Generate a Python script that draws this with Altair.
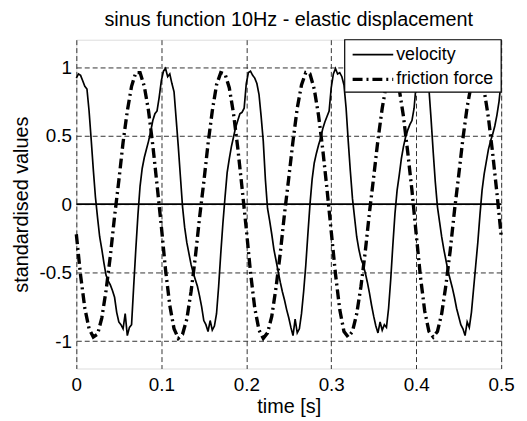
import altair as alt
import numpy as np
import pandas as pd

# ---------------- data ----------------
series_names = ["velocity", "friction force"]

# velocity sampled every 0.0025 s (201 values, 0 .. 0.5 s)
velocity = [
    # 0.000 - 0.0975
    0.92, 0.95, 0.94, 0.90, 0.86, 0.84, 0.68, 0.47, 0.25, 0.05,
    -0.10, -0.24, -0.33, -0.43, -0.52, -0.56, -0.59, -0.63, -0.68, -0.79,
    -0.86, -0.88, -0.91, -0.80, -0.96, -0.90, -0.88, -0.60, -0.33, -0.08,
    0.13, 0.26, 0.34, 0.40, 0.46, 0.53, 0.61, 0.66, 0.68, 0.78,
    # 0.100 - 0.1975
    0.90, 0.97, 0.99, 0.93, 0.95, 0.88, 0.82, 0.62, 0.42, 0.20,
    -0.02, -0.17, -0.28, -0.36, -0.44, -0.50, -0.55, -0.60, -0.67, -0.75,
    -0.85, -0.88, -0.93, -0.85, -0.92, -0.89, -0.80, -0.60, -0.36, -0.14,
    0.05, 0.23, 0.33, 0.42, 0.49, 0.56, 0.61, 0.66, 0.67, 0.70,
    # 0.200 - 0.2975
    0.88, 0.96, 0.97, 0.94, 0.92, 0.88, 0.80, 0.64, 0.46, 0.18,
    -0.03, -0.12, -0.22, -0.33, -0.41, -0.49, -0.57, -0.64, -0.70, -0.77,
    -0.83, -0.90, -0.96, -0.84, -0.94, -0.91, -0.80, -0.64, -0.45, -0.22,
    0.00, 0.18, 0.30, 0.37, 0.43, 0.48, 0.55, 0.60, 0.64, 0.68,
    # 0.300 - 0.3975
    0.85, 0.95, 0.99, 0.95, 0.96, 0.93, 0.87, 0.70, 0.46, 0.24,
    0.04, -0.10, -0.24, -0.33, -0.40, -0.44, -0.50, -0.57, -0.65, -0.74,
    -0.82, -0.89, -0.94, -0.86, -0.92, -0.88, -0.90, -0.76, -0.55, -0.30,
    -0.07, 0.10, 0.21, 0.33, 0.42, 0.49, 0.54, 0.58, 0.61, 0.70,
    # 0.400 - 0.4975
    0.88, 0.96, 0.98, 0.95, 0.93, 0.90, 0.84, 0.62, 0.38, 0.16,
    -0.02, -0.13, -0.24, -0.33, -0.41, -0.49, -0.55, -0.61, -0.68, -0.76,
    -0.82, -0.88, -0.91, -0.96, -0.86, -0.90, -0.79, -0.62, -0.45, -0.28,
    -0.08, 0.10, 0.22, 0.31, 0.40, 0.46, 0.51, 0.57, 0.65, 0.75,
    # 0.500
    0.90,
]

# friction force sampled every 0.005 s (101 values, 0 .. 0.5 s)
friction = [
    -0.22, -0.52, -0.76, -0.91, -0.97, -0.95, -0.83, -0.63, -0.38, -0.09,
    0.17, 0.45, 0.68, 0.86, 0.96, 0.96, 0.86, 0.68, 0.43, 0.14,
    -0.16, -0.48, -0.74, -0.91, -0.98, -0.95, -0.84, -0.64, -0.39, -0.10,
    0.16, 0.44, 0.68, 0.87, 0.96, 0.95, 0.85, 0.66, 0.41, 0.12,
    -0.18, -0.50, -0.76, -0.92, -0.98, -0.94, -0.82, -0.61, -0.36, -0.07,
    0.19, 0.46, 0.70, 0.87, 0.96, 0.95, 0.84, 0.65, 0.40, 0.11,
    -0.20, -0.51, -0.77, -0.93, -0.97, -0.93, -0.80, -0.60, -0.35, -0.06,
    0.20, 0.47, 0.70, 0.88, 0.96, 0.95, 0.84, 0.64, 0.38, 0.10,
    -0.22, -0.53, -0.78, -0.93, -0.97, -0.93, -0.80, -0.59, -0.34, -0.05,
    0.21, 0.48, 0.71, 0.88, 0.96, 0.95, 0.83, 0.63, 0.37, 0.08,
    -0.23,
]

x_ticks = [0, 0.1, 0.2, 0.3, 0.4, 0.5]
y_ticks = [-1, -0.5, 0, 0.5, 1]
zero_line = [0]

time_v = np.round(np.linspace(0, 0.5, len(velocity)), 5)
time_f = np.round(np.linspace(0, 0.5, len(friction)), 5)

df_v = pd.DataFrame({"t": time_v, "v": velocity})
df_f = pd.DataFrame({"t": time_f, "v": friction})
df_zero = pd.DataFrame({"v": zero_line})
df_leg = pd.DataFrame({"name": series_names})

FONT = "Liberation Sans"
W, H = 429, 332

xscale = alt.Scale(domain=[0, 0.5], nice=False, zero=False)
yscale = alt.Scale(domain=[-1.2, 1.2], nice=False, zero=False)

LABEL_EXPR = "'' + datum.value"

xaxis = alt.Axis(values=x_ticks, title="time [s]", grid=True, gridDash=[5, 3],
                 gridColor="#333", gridWidth=1, gridOpacity=1, ticks=False,
                 domain=False, labelFontSize=19, titleFontSize=20,
                 labelFont=FONT, titleFont=FONT, titleFontWeight="normal",
                 labelPadding=7, titlePadding=2, labelColor="black",
                 titleColor="black", labelFlush=False, labelExpr=LABEL_EXPR)
yaxis = alt.Axis(values=y_ticks, title="standardised values", grid=True,
                 gridDash=[5, 3], gridColor="#333", gridWidth=1, gridOpacity=1,
                 ticks=False, domain=False, labelFontSize=19, titleFontSize=20,
                 labelFont=FONT, titleFont=FONT, titleFontWeight="normal",
                 labelPadding=5, titlePadding=8, labelColor="black",
                 titleColor="black", labelFlush=False, labelExpr=LABEL_EXPR)

vel = alt.Chart(df_v).mark_line(color="black", strokeWidth=1.7).encode(
    x=alt.X("t:Q", scale=xscale, axis=xaxis),
    y=alt.Y("v:Q", scale=yscale, axis=yaxis),
)

fric = alt.Chart(df_f).mark_line(color="black", strokeWidth=3.4,
                                 strokeDash=[10, 4, 2, 4]).encode(
    x=alt.X("t:Q", scale=xscale),
    y=alt.Y("v:Q", scale=yscale),
)

zero = alt.Chart(df_zero).mark_rule(color="black", strokeWidth=1.7).encode(
    y=alt.Y("v:Q", scale=yscale)
)

# legend box (top right, MATLAB style)
leg_box = alt.Chart(df_leg.head(1)).mark_rect(
    fill="white", stroke="black", strokeWidth=1.2
).encode(x=alt.value(271), x2=alt.value(W), y=alt.value(0), y2=alt.value(53))

leg_v = alt.Chart(df_leg.head(1)).mark_rule(color="black", strokeWidth=1.7).encode(
    x=alt.value(279), x2=alt.value(320), y=alt.value(15)
)
leg_f = alt.Chart(df_leg.head(1)).mark_rule(
    color="black", strokeWidth=3.4, strokeDash=[10, 4, 2, 4]
).encode(x=alt.value(279), x2=alt.value(320), y=alt.value(40))

leg_t1 = alt.Chart(df_leg.iloc[[0]]).mark_text(
    align="left", baseline="middle", fontSize=18, font=FONT, color="black"
).encode(x=alt.value(323), y=alt.value(15), text="name:N")
leg_t2 = alt.Chart(df_leg.iloc[[1]]).mark_text(
    align="left", baseline="middle", fontSize=18, font=FONT, color="black"
).encode(x=alt.value(323), y=alt.value(40), text="name:N")

chart = alt.layer(vel, fric, zero, leg_box, leg_v, leg_f, leg_t1, leg_t2).properties(
    width=W,
    height=H,
    title=alt.TitleParams("sinus function 10Hz - elastic displacement",
                          fontSize=20, font=FONT, fontWeight="normal",
                          color="black", anchor="middle", offset=9),
    autosize=alt.AutoSizeParams(type="none"),
    padding={"left": 69, "top": 30, "right": 18, "bottom": 53},
).configure_view(stroke="black", strokeWidth=1.3).configure(background="white")

chart.save("out.html", embed_options={"renderer": "svg", "actions": False})
